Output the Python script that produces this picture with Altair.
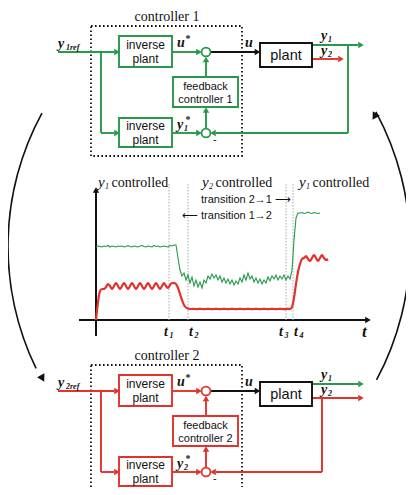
import altair as alt
import pandas as pd
import numpy as np

GREEN = "#26994a"
RED = "#e1322c"
BLACK = "#111111"
GREY = "#a8a8a8"

# ---------------- middle panel data ----------------
DT = 0.2  # sampling step (time units)
green_y1 = [
    0.73, 0.74, 0.735, 0.73, 0.74, 0.735, 0.745, 0.73, 0.74, 0.735,
    0.73, 0.74, 0.735, 0.74, 0.73, 0.735, 0.745, 0.735, 0.73, 0.74,
    0.735, 0.73, 0.74, 0.745, 0.735, 0.73, 0.74, 0.735, 0.73, 0.745,
    0.735, 0.74, 0.73, 0.735, 0.74, 0.735, 0.73, 0.745, 0.74, 0.75,
    0.75, 0.62, 0.50, 0.44, 0.47, 0.40, 0.45, 0.37, 0.43, 0.34,
    0.40, 0.33, 0.38, 0.32, 0.40, 0.37, 0.44, 0.41, 0.46, 0.42,
    0.45, 0.40, 0.44, 0.38, 0.42, 0.37, 0.41, 0.36, 0.40, 0.35,
    0.39, 0.36, 0.42, 0.38, 0.45, 0.40, 0.47, 0.41, 0.44, 0.38,
    0.42, 0.37, 0.41, 0.36, 0.40, 0.37, 0.43, 0.39, 0.44, 0.41,
    0.45, 0.40, 0.44, 0.41, 0.45, 0.40, 0.44, 0.41, 0.50, 0.80,
    1.02, 1.07, 1.07, 1.075, 1.065, 1.07, 1.08, 1.07, 1.065, 1.075,
    1.07, 1.065, 1.07,
]
red_y2 = [
    0.00, 0.18, 0.29, 0.31, 0.31, 0.33, 0.36, 0.34, 0.31, 0.34,
    0.37, 0.34, 0.31, 0.34, 0.37, 0.34, 0.31, 0.34, 0.37, 0.34,
    0.31, 0.34, 0.37, 0.34, 0.31, 0.34, 0.37, 0.34, 0.31, 0.34,
    0.37, 0.34, 0.31, 0.34, 0.37, 0.34, 0.32, 0.35, 0.37, 0.37,
    0.36, 0.32, 0.26, 0.20, 0.15, 0.125, 0.115, 0.11, 0.11, 0.112,
    0.108, 0.11, 0.112, 0.11, 0.108, 0.11, 0.112, 0.11, 0.108, 0.11,
    0.112, 0.11, 0.108, 0.11, 0.112, 0.11, 0.108, 0.11, 0.112, 0.11,
    0.108, 0.11, 0.112, 0.11, 0.108, 0.11, 0.112, 0.11, 0.108, 0.11,
    0.112, 0.11, 0.108, 0.11, 0.112, 0.11, 0.108, 0.11, 0.112, 0.11,
    0.108, 0.11, 0.112, 0.11, 0.108, 0.11, 0.112, 0.11, 0.13, 0.22,
    0.36, 0.48, 0.56, 0.61, 0.62, 0.64, 0.61, 0.59, 0.62, 0.65,
    0.62, 0.59, 0.62, 0.65, 0.62, 0.60, 0.61,
]
switch_subs = ["1", "2", "3", "4"]
switch_times = [7.3, 9.2, 19.0, 19.7]
switch_label_shift = [-5, 1, -7, 1]
mode_subs = ["1", "2", "1"]
mode_word = "controlled"
transition_texts = ["transition 2\u21921 \u27f6", "\u27f5 transition 1\u21922"]

# panel placement
PX0, PXS, PY0, PYS = 96, 10, 320, 100

# ---------------- canvas ----------------
W, H = 398, 479
XS = alt.Scale(domain=[8, 406], nice=False, zero=False)
YS = alt.Scale(domain=[487, 8], nice=False, zero=False)


def ex(f="x"):
    return alt.X(f"{f}:Q", scale=XS, axis=None)


def ey(f="y"):
    return alt.Y(f"{f}:Q", scale=YS, axis=None)


layers = []

# dotted controller boxes
dots = pd.DataFrame({"x": [91, 91], "y": [26, 365], "x2": [242, 242], "y2": [156, 495]})
layers.append(alt.Chart(dots).mark_rect(fillOpacity=0, stroke=BLACK, strokeWidth=1.8,
                                        strokeDash=[1.6, 2.4]).encode(
    x=ex(), y=ey(), x2="x2:Q", y2="y2:Q"))


# ---------------- block diagrams ----------------
def diagram(dy, col, fbx, y2_end):
    segs = [
        (58, 52, 114, 52, col), (101, 52, 101, 133, col), (101, 133, 114, 133, col),
        (172, 52, 197, 52, col), (210.5, 52, 255, 52, BLACK),
        (206, 77, 206, 62, col), (206, 128.5, 206, 112, col), (172, 133, 197, 133, col),
        (312, 45, 358, 45, GREEN), (312, 59, y2_end, 59, RED),
        (fbx, 45 if col == GREEN else 59, fbx, 133, col), (fbx, 133, 216, 133, col),
    ]
    segs = [(a, b + dy, c, d + dy, e) for a, b, c, d, e in segs]
    arrows = [
        (117, 52, "triangle-right", col), (117, 133, "triangle-right", col),
        (199, 52, "triangle-right", col), (257.5, 52, "triangle-right", BLACK),
        (199, 133, "triangle-right", col), (361, 45, "triangle-right", GREEN),
        (y2_end + 3, 59, "triangle-right", RED),
        (206, 59.5, "triangle-up", col), (206, 110, "triangle-up", col),
        (213, 133, "triangle-left", col),
    ]
    arrows = [(a, b + dy, c, d) for a, b, c, d in arrows]
    boxes = [
        (119, 36, 172, 67, col), (173, 77, 238, 107, col),
        (119, 118, 172, 147, col), (260, 43, 312, 67, BLACK),
    ]
    boxes = [(a, b + dy, c, d + dy, e) for a, b, c, d, e in boxes]
    circles = [(206, 52 + dy, col), (206, 133 + dy, col)]
    return segs, arrows, boxes, circles


s1, a1, b1, c1 = diagram(0, GREEN, 348, 338)
s2, a2, b2, c2 = diagram(339, RED, 322, 358)

seg_df = pd.DataFrame(s1 + s2, columns=["x", "y", "x2", "y2", "c"])
layers.append(alt.Chart(seg_df).mark_rule(strokeWidth=1.9).encode(
    x=ex(), y=ey(), x2="x2:Q", y2="y2:Q", color=alt.Color("c:N", scale=None)))

box_df = pd.DataFrame(b1 + b2, columns=["x", "y", "x2", "y2", "c"])
layers.append(alt.Chart(box_df).mark_rect(fill="white", strokeWidth=1.9).encode(
    x=ex(), y=ey(), x2="x2:Q", y2="y2:Q", stroke=alt.Stroke("c:N", scale=None)))

circ_df = pd.DataFrame(c1 + c2, columns=["x", "y", "c"])
layers.append(alt.Chart(circ_df).mark_point(shape="circle", fill="white", filled=False,
                                            fillOpacity=1, opacity=1, strokeWidth=1.8,
                                            size=80).encode(
    x=ex(), y=ey(), stroke=alt.Stroke("c:N", scale=None)))

# ---------------- middle panel ----------------
axis_df = pd.DataFrame([(PX0, 336, PX0, 192), (79, PY0, 366, PY0)], columns=["x", "y", "x2", "y2"])
layers.append(alt.Chart(axis_df).mark_rule(strokeWidth=2, color=BLACK).encode(
    x=ex(), y=ey(), x2="x2:Q", y2="y2:Q"))

guide_df = pd.DataFrame({"x": [PX0 + PXS * t for t in switch_times]})
guide_df["y"] = 184
guide_df["y2"] = PY0
layers.append(alt.Chart(guide_df).mark_rule(strokeWidth=1, color=GREY, strokeDash=[1.5, 1.5]).encode(
    x=ex(), y=ey(), y2="y2:Q"))

g_df = pd.DataFrame({"t": np.arange(len(green_y1)) * DT, "v": green_y1})
r_df = pd.DataFrame({"t": np.arange(len(red_y2)) * DT, "v": red_y2})
for df in (g_df, r_df):
    df["x"] = PX0 + PXS * df["t"]
    df["y"] = PY0 - PYS * df["v"]
layers.append(alt.Chart(r_df).mark_line(color=RED, strokeWidth=2.2, interpolate="monotone").encode(
    x=ex(), y=ey()))
layers.append(alt.Chart(g_df).mark_line(color=GREEN, strokeWidth=1.1).encode(x=ex(), y=ey()))

arrow_df = pd.DataFrame(a1 + a2 + [(PX0, 190, "triangle-up", BLACK), (368, PY0, "triangle-right", BLACK)],
                        columns=["x", "y", "shape", "c"])
layers.append(alt.Chart(arrow_df).mark_point(filled=True, opacity=1, size=42).encode(
    x=ex(), y=ey(), shape=alt.Shape("shape:N", scale=None), color=alt.Color("c:N", scale=None)))

# ---------------- switching arcs ----------------
layers.append(alt.Chart(pd.DataFrame({"x": [287], "y": [246.5]})).mark_arc(
    radius=279.8, radius2=278.2, theta=4.26, theta2=5.211, color=BLACK).encode(x=ex(), y=ey()))
layers.append(alt.Chart(pd.DataFrame({"x": [127], "y": [246.5]})).mark_arc(
    radius=283.8, radius2=282.2, theta=1.075, theta2=2.062, color=BLACK).encode(x=ex(), y=ey()))
arc_heads = pd.DataFrame({"x": [42.5, 374.5], "y": [378.5, 114.5], "a": [151, 332]})
layers.append(alt.Chart(arc_heads).mark_point(shape="triangle-up", filled=True, opacity=1,
                                              size=70, color=BLACK).encode(
    x=ex(), y=ey(), angle=alt.Angle("a:Q", scale=None)))


# ---------------- text ----------------
def txt(items, font, size, style="normal", weight="normal", align="left",
        baseline="alphabetic", color=BLACK):
    df = pd.DataFrame(items, columns=["text", "x", "y"])
    return alt.Chart(df).mark_text(font=font, fontSize=size, fontStyle=style, fontWeight=weight,
                                   align=align, baseline=baseline, color=color).encode(
        x=ex(), y=ey(), text="text:N")


SERIF = "'Liberation Serif', 'Times New Roman', 'DejaVu Serif', serif"
SANS = "'Liberation Sans', Arial, sans-serif"

layers.append(txt([("controller 1", 167, 17), ("controller 2", 167, 356)], SERIF, 14,
                  align="center", baseline="middle"))
layers.append(txt([("inverse", 145.5, 45), ("plant", 145.5, 59), ("inverse", 145.5, 126),
                   ("plant", 145.5, 140), ("inverse", 145.5, 384), ("plant", 145.5, 398),
                   ("inverse", 145.5, 465), ("plant", 145.5, 479)], SANS, 12,
                  align="center", baseline="middle"))
layers.append(txt([("feedback", 205.5, 87), ("controller 1", 205.5, 99.5),
                   ("feedback", 205.5, 426), ("controller 2", 205.5, 438.5)], SANS, 11,
                  align="center", baseline="middle"))
layers.append(txt([("plant", 286, 55.5), ("plant", 286, 394.5)], SANS, 14.5,
                  align="center", baseline="middle"))
layers.append(txt([("-", 213, 143), ("-", 213, 482)], SANS, 11))
layers.append(txt([(transition_texts[0], 201, 200), (transition_texts[1], 182, 216)], SANS, 11,
                  baseline="middle"))

mode_x = [98, 202, 299]
layers.append(txt([("y", x, 187) for x in mode_x], SERIF, 15, style="italic"))
layers.append(txt([(s, x + 7, 189) for s, x in zip(mode_subs, mode_x)], SERIF, 8, style="italic"))
layers.append(txt([(mode_word, x + 13.5, 187) for x in mode_x], SERIF, 14))

big = [("y", 58, 48), ("u", 177, 47), ("u", 245, 47), ("y", 321, 40), ("y", 321, 55), ("y", 177, 129)]
big = big + [(t, x, y + 339) for t, x, y in big]
tx = [PX0 + PXS * t + s for t, s in zip(switch_times, switch_label_shift)]
big += [("t", x, 336) for x in tx]
layers.append(txt(big, SERIF, 14, style="italic", weight="bold"))
layers.append(txt([("t", 362, 337)], SERIF, 17, style="italic", weight="bold"))
subs = [("1ref", 66, 50), ("1", 328, 42), ("2", 328, 57), ("1", 184, 131),
        ("2ref", 66, 389), ("1", 328, 381), ("2", 328, 396), ("2", 184, 470)]
subs += [(s, x + 5.5, 338) for s, x in zip(switch_subs, tx)]
layers.append(txt(subs, SERIF, 8, style="italic", weight="bold"))
sups = [("*", 185.5, 42), ("*", 185.5, 123), ("*", 185.5, 381), ("*", 185.5, 462)]
layers.append(txt(sups, SERIF, 10, weight="bold"))

chart = alt.layer(*layers).properties(
    width=W, height=H, padding=0, autosize=alt.AutoSizeParams(type="none")
).configure_view(stroke=None)

chart.save("out.html", embed_options={"renderer": "svg", "actions": False})
